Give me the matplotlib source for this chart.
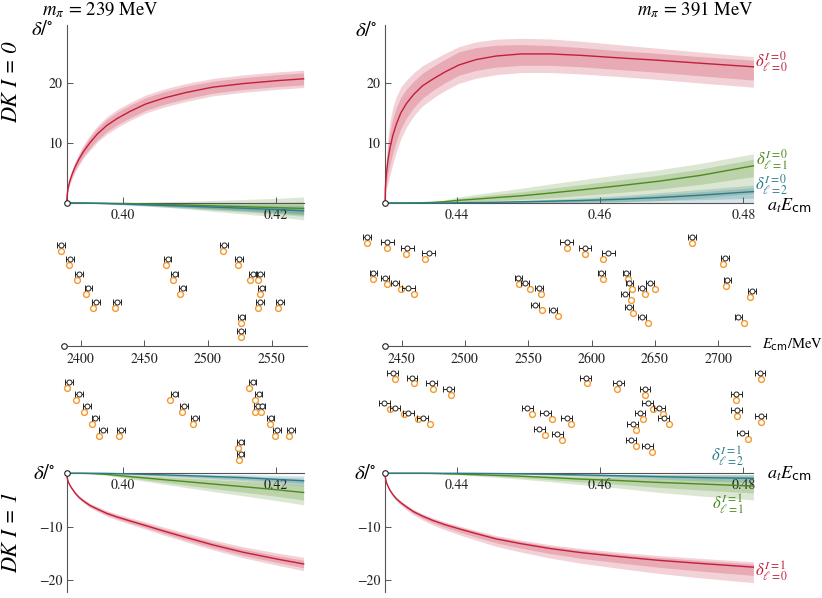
"""
DK-bar phase shifts and the finite-volume levels used to constrain them,
for m_pi = 239 MeV (left) and 391 MeV (right).  Values read off the figure.
"""
import matplotlib
matplotlib.use("Agg")
import matplotlib.pyplot as plt
import matplotlib.transforms as mtransforms
import numpy as np

plt.rcParams["mathtext.fontset"] = "custom"
plt.rcParams["mathtext.rm"] = "STIXGeneral"
plt.rcParams["mathtext.it"] = "STIXGeneral:italic"
plt.rcParams["mathtext.bf"] = "STIXGeneral:bold"
plt.rcParams["mathtext.sf"] = "DejaVu Sans"
plt.rcParams["mathtext.fallback"] = "stix"
plt.rcParams["font.family"] = "STIXGeneral"

W, H = 822, 598
RED = "#c41e3a"
GREEN = "#4b8b1e"
TEAL = "#2b7b8c"
ORANGE = "#f39a2d"
AXC = "#555555"
INK = "#222222"

# ===== phase shifts, m_pi = 239 MeV (a_t E_cm samples) =====
X239 = [0.39270, 0.39275, 0.39290, 0.39310, 0.39340, 0.39380, 0.39430, 0.39490, 0.39570, 0.39670,
        0.39790, 0.39930, 0.40100, 0.40300, 0.40540, 0.40820, 0.41170, 0.41570, 0.42020, 0.42360]
# I = 0
I0_239_S = [0, 1.3, 2.6, 3.65, 4.8, 6.05, 7.3, 8.6, 10.0, 11.5, 12.9, 14.1, 15.3, 16.5, 17.5, 18.4, 19.3, 19.9, 20.4, 20.7]
I0_239_S_IN = [0, 0.14, 0.28, 0.38, 0.5, 0.6, 0.7, 0.78, 0.88, 0.95, 1.02, 1.05, 1.05, 1.05, 1.05, 1.05, 1.0, 1.0, 1.0, 1.0]
I0_239_S_OUT = [0, 0.2, 0.4, 0.55, 0.7, 0.85, 1.0, 1.1, 1.25, 1.35, 1.45, 1.5, 1.5, 1.5, 1.5, 1.5, 1.45, 1.45, 1.45, 1.45]
I0_239_P = [0, 0, 0, 0, 0, 0, 0, 0, -0.01, -0.02, -0.04, -0.07, -0.1, -0.16, -0.23, -0.33, -0.47, -0.62, -0.78, -0.9]
I0_239_P_IN = [0, 0, 0, 0, 0, 0, 0, 0, 0.02, 0.03, 0.05, 0.08, 0.12, 0.18, 0.27, 0.37, 0.53, 0.7, 0.9, 1.1]
I0_239_P_OUT = [0, 0, 0, 0, 0, 0, 0, 0, 0.03, 0.05, 0.08, 0.13, 0.2, 0.3, 0.45, 0.62, 0.9, 1.2, 1.55, 1.9]
I0_239_D = [0, 0, 0, 0, 0, 0, 0, -0.01, -0.03, -0.06, -0.1, -0.15, -0.22, -0.3, -0.4, -0.52, -0.68, -0.87, -1.1, -1.3]
I0_239_D_IN = [0, 0, 0, 0, 0, 0, 0, 0.01, 0.02, 0.03, 0.04, 0.06, 0.09, 0.12, 0.16, 0.2, 0.26, 0.33, 0.42, 0.5]
I0_239_D_OUT = [0, 0, 0, 0, 0, 0, 0, 0.01, 0.03, 0.05, 0.08, 0.11, 0.16, 0.22, 0.29, 0.37, 0.48, 0.6, 0.76, 0.9]
# I = 1
I1_239_S = [0, -0.78, -1.56, -2.2, -2.9, -3.7, -4.5, -5.2, -6.0, -6.7, -7.5, -8.2, -8.95, -9.8, -10.85, -12.0, -13.4, -14.8, -16.1, -17.0]
I1_239_S_IN = [0, 0.03, 0.07, 0.1, 0.12, 0.15, 0.18, 0.21, 0.24, 0.26, 0.29, 0.32, 0.35, 0.38, 0.42, 0.46, 0.52, 0.58, 0.64, 0.7]
I1_239_S_OUT = [0, 0.05, 0.12, 0.17, 0.22, 0.27, 0.32, 0.37, 0.42, 0.47, 0.52, 0.57, 0.62, 0.68, 0.75, 0.83, 0.93, 1.03, 1.15, 1.25]
I1_239_P = [0, 0, 0, 0, 0, 0, 0, -0.01, -0.04, -0.1, -0.2, -0.38, -0.62, -0.88, -1.2, -1.55, -2.0, -2.5, -3.1, -3.6]
I1_239_P_IN = [0, 0, 0, 0, 0, 0, 0, 0, 0.03, 0.06, 0.11, 0.18, 0.27, 0.38, 0.51, 0.66, 0.84, 1.02, 1.23, 1.4]
I1_239_P_OUT = [0, 0, 0, 0, 0, 0, 0, 0, 0.05, 0.1, 0.18, 0.3, 0.45, 0.63, 0.85, 1.1, 1.4, 1.7, 2.05, 2.3]
I1_239_D = [0, 0, 0, 0, 0, 0, 0, 0, 0, 0, -0.02, -0.06, -0.12, -0.2, -0.3, -0.42, -0.6, -0.8, -1.15, -1.4]
I1_239_D_IN = [0, 0, 0, 0, 0, 0, 0, 0, 0, 0, 0.01, 0.03, 0.05, 0.07, 0.11, 0.16, 0.22, 0.3, 0.41, 0.5]
I1_239_D_OUT = [0, 0, 0, 0, 0, 0, 0, 0, 0, 0, 0.02, 0.05, 0.09, 0.14, 0.21, 0.3, 0.42, 0.56, 0.78, 0.95]

# ===== phase shifts, m_pi = 391 MeV =====
X391 = [0.43000, 0.43005, 0.43020, 0.43040, 0.43070, 0.43110, 0.43160, 0.43220, 0.43300, 0.43400, 0.43520, 0.43660,
        0.43830, 0.44030, 0.44270, 0.44550, 0.44900, 0.45300, 0.45750, 0.46250, 0.46800, 0.47400, 0.48140]
# I = 0
I0_391_S = [0, 2.5, 5.0, 7.1, 9.2, 11.3, 13.2, 15.0, 16.6, 18.1, 19.5, 20.6,
            21.8, 23.0, 23.9, 24.5, 24.85, 24.85, 24.6, 24.2, 23.8, 23.3, 22.7]
I0_391_S_OUT_UP = [0, 1.5, 2.8, 3.8, 4.5, 4.7, 4.6, 4.3, 3.9, 3.6, 3.35, 3.2,
                   3.1, 3.05, 2.95, 2.8, 2.6, 2.5, 2.35, 2.2, 2.0, 1.85, 1.7]
I0_391_S_OUT_DN = [0, 1.5, 2.8, 3.8, 4.5, 4.7, 4.6, 4.3, 3.9, 3.6, 3.35, 3.2,
                   3.1, 3.05, 3.1, 3.1, 3.1, 3.1, 3.1, 3.1, 3.2, 3.3, 3.4]
I0_391_S_IN_UP = [0, 0.9, 1.7, 2.3, 2.7, 2.9, 2.8, 2.6, 2.4, 2.2, 2.1, 2.1,
                  2.1, 2.2, 2.0, 1.8, 1.55, 1.4, 1.3, 1.2, 1.15, 1.1, 1.1]
I0_391_S_IN_DN = [0, 0.9, 1.7, 2.3, 2.7, 2.9, 2.8, 2.6, 2.4, 2.2, 2.05, 1.9,
                  1.8, 1.7, 1.8, 1.85, 1.9, 1.9, 1.9, 1.95, 2.0, 2.1, 2.2]
I0_391_P = [0, 0, 0, 0, 0, 0, 0, 0, 0, 0.02, 0.05, 0.1,
            0.22, 0.45, 0.65, 0.9, 1.2, 1.65, 2.2, 2.85, 3.6, 4.6, 6.2]
I0_391_P_OUT_UP = [0, 0, 0, 0, 0, 0, 0, 0, 0.01, 0.03, 0.06, 0.15,
                   0.3, 0.55, 0.8, 1.0, 1.25, 1.5, 1.7, 1.85, 1.9, 2.0, 2.0]
I0_391_P_OUT_DN = [0, 0, 0, 0, 0, 0, 0, 0, 0, 0.02, 0.05, 0.1,
                   0.22, 0.45, 0.65, 0.9, 1.2, 1.6, 2.15, 2.7, 3.2, 3.8, 4.6]
I0_391_P_IN_UP = [0, 0, 0, 0, 0, 0, 0, 0, 0, 0.01, 0.03, 0.07,
                  0.15, 0.3, 0.42, 0.55, 0.65, 0.78, 0.88, 0.95, 1.0, 1.05, 1.1]
I0_391_P_IN_DN = [0, 0, 0, 0, 0, 0, 0, 0, 0, 0.01, 0.03, 0.06,
                  0.12, 0.25, 0.38, 0.5, 0.62, 0.78, 0.95, 1.1, 1.3, 1.5, 1.8]
I0_391_D = [0, 0, 0, 0, 0, 0, 0, 0, 0, 0, 0, 0,
            0.005, 0.05, 0.08, 0.12, 0.2, 0.3, 0.42, 0.6, 0.9, 1.3, 1.9]
I0_391_D_OUT_UP = [0, 0, 0, 0, 0, 0, 0, 0, 0, 0, 0, 0,
                   0.01, 0.05, 0.08, 0.12, 0.2, 0.3, 0.45, 0.6, 0.8, 0.95, 1.1]
I0_391_D_OUT_DN = [0, 0, 0, 0, 0, 0, 0, 0, 0, 0, 0, 0,
                   0.005, 0.05, 0.08, 0.12, 0.2, 0.3, 0.42, 0.58, 0.85, 1.25, 1.85]
I0_391_D_IN_UP = [0, 0, 0, 0, 0, 0, 0, 0, 0, 0, 0, 0,
                  0.005, 0.03, 0.05, 0.07, 0.12, 0.18, 0.27, 0.36, 0.48, 0.57, 0.65]
I0_391_D_IN_DN = [0, 0, 0, 0, 0, 0, 0, 0, 0, 0, 0, 0,
                  0.003, 0.03, 0.05, 0.07, 0.12, 0.18, 0.25, 0.35, 0.5, 0.75, 1.1]
# I = 1
I1_391_S = [0, -0.85, -1.7, -2.4, -3.2, -4.0, -4.8, -5.5, -6.3, -7.2, -8.0, -8.8,
            -9.6, -10.4, -11.3, -12.3, -13.2, -14.1, -14.9, -15.6, -16.3, -16.9, -17.6]
I1_391_S_OUT_UP = [0, 0.08, 0.12, 0.16, 0.2, 0.24, 0.28, 0.32, 0.36, 0.4, 0.44, 0.48,
                   0.52, 0.56, 0.6, 0.64, 0.68, 0.72, 0.78, 0.84, 0.9, 0.95, 1.0]
I1_391_S_OUT_DN = [0, 0.1, 0.16, 0.22, 0.28, 0.34, 0.4, 0.47, 0.55, 0.64, 0.74, 0.85,
                   0.97, 1.1, 1.24, 1.4, 1.58, 1.78, 2.0, 2.2, 2.45, 2.7, 2.9]
I1_391_S_IN_UP = [0, 0.05, 0.07, 0.1, 0.12, 0.14, 0.17, 0.19, 0.22, 0.24, 0.26, 0.29,
                  0.31, 0.34, 0.36, 0.38, 0.41, 0.43, 0.47, 0.5, 0.54, 0.57, 0.6]
I1_391_S_IN_DN = [0, 0.05, 0.08, 0.12, 0.15, 0.18, 0.21, 0.25, 0.29, 0.34, 0.39, 0.45,
                  0.51, 0.58, 0.66, 0.74, 0.84, 0.94, 1.06, 1.17, 1.3, 1.43, 1.55]
I1_391_P = [0, 0, 0, 0, 0, 0, 0, 0, 0, 0, 0, -0.02,
            -0.08, -0.15, -0.25, -0.38, -0.55, -0.8, -1.1, -1.35, -1.7, -2.0, -2.4]
I1_391_P_OUT_UP = [0, 0, 0, 0, 0, 0, 0, 0, 0, 0, 0, 0.02,
                   0.06, 0.12, 0.2, 0.3, 0.45, 0.6, 0.85, 1.1, 1.45, 1.8, 2.1]
I1_391_P_OUT_DN = [0, 0, 0, 0, 0, 0, 0, 0, 0, 0, 0, 0.02,
                   0.07, 0.15, 0.25, 0.37, 0.55, 0.75, 1.05, 1.4, 1.85, 2.25, 2.6]
I1_391_P_IN_UP = [0, 0, 0, 0, 0, 0, 0, 0, 0, 0, 0, 0.01,
                  0.03, 0.06, 0.1, 0.15, 0.22, 0.3, 0.43, 0.55, 0.72, 0.9, 1.05]
I1_391_P_IN_DN = [0, 0, 0, 0, 0, 0, 0, 0, 0, 0, 0, 0.01,
                  0.04, 0.08, 0.13, 0.19, 0.28, 0.38, 0.53, 0.7, 0.92, 1.12, 1.3]
I1_391_D = [0, 0, 0, 0, 0, 0, 0, 0, 0, 0, 0, 0,
            0, 0, -0.02, -0.05, -0.1, -0.18, -0.3, -0.45, -0.62, -0.8, -0.95]
I1_391_D_OUT = [0, 0, 0, 0, 0, 0, 0, 0, 0, 0, 0, 0,
                0, 0, 0.01, 0.03, 0.07, 0.12, 0.2, 0.3, 0.45, 0.6, 0.75]
I1_391_D_IN = [0, 0, 0, 0, 0, 0, 0, 0, 0, 0, 0, 0,
               0, 0, 0.005, 0.02, 0.04, 0.07, 0.11, 0.17, 0.25, 0.33, 0.42]

# ===== finite-volume energy levels (E_cm in MeV, row = vertical slot) =====
# black: lattice level with error, orange: level from the fitted amplitude
LT_E = [2384.3, 2391.6, 2398.9, 2406.0, 2411.8, 2428.7, 2468.3, 2473.8, 2480.0,
        2512.5, 2524.5, 2535.5, 2540.7, 2542.1, 2540.7, 2556.4, 2526.4, 2526.1]
LT_EO = [2384.3, 2391.1, 2397.3, 2404.2, 2409.9, 2426.9, 2467.0, 2472.7, 2477.9,
         2511.5, 2523.7, 2532.7, 2539.4, 2541.0, 2538.9, 2555.1, 2525.8, 2525.8]
LT_ROW = [7, 6, 5, 4, 3, 3, 6, 5, 4, 7, 6, 5, 5, 4, 3, 3, 2, 1]
LT_ERR = [3.0] * 18

LB_E = [2390.8, 2398.9, 2404.9, 2411.5, 2417.7, 2431.6, 2473.8, 2481.1, 2489.7,
        2525.6, 2525.6, 2535.0, 2539.7, 2539.2, 2542.1, 2549.1, 2554.3, 2565.3]
LB_EO = [2389.5, 2396.1, 2402.4, 2408.6, 2414.6, 2430.1, 2470.1, 2479.3, 2488.1,
         2523.5, 2524.3, 2532.3, 2536.8, 2536.8, 2541.5, 2548.6, 2552.7, 2563.7]
LB_ROW = [3, 4, 5, 6, 7, 7, 4, 5, 6, 8, 9, 3, 4, 5, 5, 6, 7, 7]
LB_ERR = [3.0] * 18

RT_E = [2422.8, 2438.6, 2454.4, 2471.3, 2427.6, 2436.6, 2444.7, 2455.2, 2542.1, 2547.4,
        2558.5, 2555.5, 2569.7, 2580.3, 2594.8, 2613.2, 2607.7, 2627.4, 2629.8, 2626.4,
        2629.3, 2639.8, 2646.1, 2640.0, 2679.5, 2705.4, 2707.2, 2726.5, 2715.9]
RT_EO = [2422.4, 2438.2, 2453.4, 2468.2, 2427.6, 2438.6, 2449.4, 2459.7, 2542.7, 2551.3,
         2560.3, 2560.8, 2573.5, 2580.6, 2595.0, 2609.2, 2609.2, 2629.0, 2631.9, 2630.9,
         2632.5, 2642.2, 2650.1, 2644.8, 2679.1, 2704.0, 2706.2, 2725.1, 2720.6]
RT_ROW = [20.4, 19.3, 18.3, 17.3, 13.6, 12.7, 11.7, 10.7, 12.7, 11.7,
          10.7, 7.7, 6.7, 19.3, 18.3, 17.3, 13.6, 13.6, 11.7, 9.7,
          7.3, 10.7, 11.7, 5.3, 20.4, 16.3, 12.3, 10.2, 5.3]
RT_ERR = [3, 5, 5, 5, 3, 3, 3, 5, 3, 3, 3, 3, 3, 5, 5, 5, 3, 3, 3, 3,
          3, 3, 3, 3, 3, 3, 3, 3, 3]

RB_E = [2442.9, 2458.1, 2473.7, 2487.1, 2436.3, 2444.7, 2455.2, 2466.6, 2549.2, 2563.7,
        2580.3, 2558.7, 2572.9, 2595.3, 2621.4, 2642.2, 2644.3, 2653.5, 2638.2, 2657.0,
        2632.5, 2631.1, 2643.8, 2733.0, 2714.1, 2714.6, 2733.6, 2719.0]
RB_EO = [2444.7, 2460.0, 2474.5, 2488.7, 2441.0, 2452.1, 2462.6, 2472.6, 2552.7, 2568.5,
         2583.7, 2563.4, 2576.4, 2596.1, 2619.8, 2642.4, 2648.7, 2656.2, 2640.8, 2661.1,
         2635.1, 2634.8, 2647.7, 2733.6, 2714.1, 2714.6, 2733.6, 2723.3]
RB_ROW = [5.1, 6.0, 7.1, 8.1, 10.75, 11.7, 12.75, 13.7, 11.7, 12.75,
          13.7, 15.8, 16.7, 6.0, 7.1, 8.1, 10.75, 11.7, 12.75, 13.7,
          14.8, 17.8, 18.9, 5.1, 9.2, 12.1, 13.2, 16.4]
RB_ERR = [4.3] * 28


def px_axes(fig, x0, x1, y0, y1):
    """axes from pixel box (y measured down from the top)"""
    return fig.add_axes([x0 / W, 1 - y1 / H, (x1 - x0) / W, (y1 - y0) / H])


def fig_text(fig, x, y, s, **kw):
    kw.setdefault("ha", "center")
    kw.setdefault("va", "center")
    fig.text(x / W, 1 - y / H, s, **kw)


def threshold_dot(ax, x):
    ax.plot([x], [0], "o", ms=4, mfc="white", mec=INK, mew=0.8,
            clip_on=False, zorder=10)


def style_phase(ax, xlim, ylim, xticks, yticks, spine_lo, spine_hi):
    ax.set_xlim(xlim)
    ax.set_ylim(ylim)
    ax.patch.set_alpha(0)
    for s in ("top", "right"):
        ax.spines[s].set_visible(False)
    ax.spines["bottom"].set_position(("data", 0))
    ax.spines["left"].set_bounds(spine_lo, spine_hi)
    for s in ("bottom", "left"):
        ax.spines[s].set_color(AXC)
        ax.spines[s].set_linewidth(0.8)
    ax.set_xticks(xticks)
    ax.set_xticklabels([f"{t:.2f}" for t in xticks])
    ax.set_yticks(yticks)
    ax.set_yticklabels([str(t).replace("-", "\u2212") for t in yticks])
    ax.tick_params(direction="in", length=4, width=0.7, color=AXC,
                   labelcolor=INK, labelsize=10, pad=3)
    ax.tick_params(axis="x", pad=4)
    threshold_dot(ax, xlim[0])


def draw_curve(ax, x, c, in_dn, in_up, out_dn, out_up, color):
    x = np.asarray(x)
    c = np.asarray(c)
    ax.fill_between(x, c - np.asarray(out_dn), c + np.asarray(out_up),
                    color=color, alpha=0.2, lw=0, clip_on=False)
    ax.fill_between(x, c - np.asarray(in_dn), c + np.asarray(in_up),
                    color=color, alpha=0.22, lw=0, clip_on=False)
    ax.plot(x, c, color=color, lw=1.0, clip_on=False, zorder=5)


def draw_levels(ax, e_black, e_orange, rows, err, sign):
    y = sign * np.asarray(rows, float)
    shifted = mtransforms.offset_copy(ax.transData, fig=ax.figure, y=-4.3, units="points")
    ax.plot(e_orange, y, "o", ls="none", ms=4.2, mfc="white", mec=ORANGE, mew=1.0,
            transform=shifted, clip_on=False, zorder=3)
    cont = ax.errorbar(e_black, y, xerr=err, fmt="o", ms=3.6, mfc="white", mec=INK,
                       mew=0.7, ecolor=INK, elinewidth=0.7, capsize=2.4, capthick=0.7,
                       zorder=4)
    for art in [cont[0], *cont[1], *cont[2]]:
        art.set_clip_on(False)


def style_levels(ax, xlim, ylim, xticks):
    ax.set_xlim(xlim)
    ax.set_ylim(ylim)
    ax.patch.set_alpha(0)
    for s in ("top", "right", "left"):
        ax.spines[s].set_visible(False)
    ax.spines["bottom"].set_color(AXC)
    ax.spines["bottom"].set_linewidth(0.8)
    ax.set_yticks([])
    ax.set_xticks(xticks)
    ax.tick_params(axis="x", direction="in", length=4, width=0.7, color=AXC,
                   labelcolor=INK, labelsize=10, pad=5)
    threshold_dot(ax, xlim[0])


fig = plt.figure(figsize=(W / 100, H / 100), dpi=100)

# ---- phase-shift panels ----
ax_tl = px_axes(fig, 66.7, 303.6, 25, 221)
ax_tr = px_axes(fig, 385, 753.4, 25, 221)
ax_bl = px_axes(fig, 66.7, 303.6, 470, 591.7)
ax_br = px_axes(fig, 385, 753.4, 470, 591.7)

draw_curve(ax_tl, X239, I0_239_P, I0_239_P_IN, I0_239_P_IN, I0_239_P_OUT, I0_239_P_OUT, GREEN)
draw_curve(ax_tl, X239, I0_239_D, I0_239_D_IN, I0_239_D_IN, I0_239_D_OUT, I0_239_D_OUT, TEAL)
draw_curve(ax_tl, X239, I0_239_S, I0_239_S_IN, I0_239_S_IN, I0_239_S_OUT, I0_239_S_OUT, RED)

draw_curve(ax_tr, X391, I0_391_P, I0_391_P_IN_DN, I0_391_P_IN_UP,
           I0_391_P_OUT_DN, I0_391_P_OUT_UP, GREEN)
draw_curve(ax_tr, X391, I0_391_D, I0_391_D_IN_DN, I0_391_D_IN_UP,
           I0_391_D_OUT_DN, I0_391_D_OUT_UP, TEAL)
draw_curve(ax_tr, X391, I0_391_S, I0_391_S_IN_DN, I0_391_S_IN_UP,
           I0_391_S_OUT_DN, I0_391_S_OUT_UP, RED)

draw_curve(ax_bl, X239, I1_239_P, I1_239_P_IN, I1_239_P_IN, I1_239_P_OUT, I1_239_P_OUT, GREEN)
draw_curve(ax_bl, X239, I1_239_D, I1_239_D_IN, I1_239_D_IN, I1_239_D_OUT, I1_239_D_OUT, TEAL)
draw_curve(ax_bl, X239, I1_239_S, I1_239_S_IN, I1_239_S_IN, I1_239_S_OUT, I1_239_S_OUT, RED)

draw_curve(ax_br, X391, I1_391_P, I1_391_P_IN_DN, I1_391_P_IN_UP,
           I1_391_P_OUT_DN, I1_391_P_OUT_UP, GREEN)
draw_curve(ax_br, X391, I1_391_D, I1_391_D_IN, I1_391_D_IN, I1_391_D_OUT, I1_391_D_OUT, TEAL)
draw_curve(ax_br, X391, I1_391_S, I1_391_S_IN_DN, I1_391_S_IN_UP,
           I1_391_S_OUT_DN, I1_391_S_OUT_UP, RED)

style_phase(ax_tl, (0.3927, 0.4236), (-3.0, 29.67), [0.40, 0.42], [10, 20], 0, 29.67)
style_phase(ax_tr, (0.4300, 0.4814), (-3.0, 29.67), [0.44, 0.46, 0.48], [10, 20], 0, 29.67)
style_phase(ax_bl, (0.3927, 0.4236), (-22.2, 0.62), [0.40, 0.42], [-20, -10], -22.2, 0)
style_phase(ax_br, (0.4300, 0.4814), (-22.2, 0.62), [0.44, 0.46, 0.48], [-20, -10], -22.2, 0)

# ---- energy-level panels ----
lv_tl = px_axes(fig, 64, 306.7, 228, 345.7)
lv_bl = px_axes(fig, 64, 306.7, 345.7, 470)
lv_tr = px_axes(fig, 385, 750, 228, 345.7)
lv_br = px_axes(fig, 385, 750, 345.7, 470)

style_levels(lv_tl, (2386.9, 2577.5), (0, 8.17), [2400, 2450, 2500, 2550])
style_levels(lv_tr, (2436.8, 2725.1), (0, 22.0), [2450, 2500, 2550, 2600, 2650, 2700])
for ax, xl, yl in ((lv_bl, (2386.9, 2577.5), (-10.36, 0)),
                   (lv_br, (2436.8, 2725.1), (-23.45, 0))):
    ax.set_xlim(xl)
    ax.set_ylim(yl)
    ax.axis("off")

draw_levels(lv_tl, LT_E, LT_EO, LT_ROW, LT_ERR, 1)
draw_levels(lv_bl, LB_E, LB_EO, LB_ROW, LB_ERR, -1)
draw_levels(lv_tr, RT_E, RT_EO, RT_ROW, RT_ERR, 1)
draw_levels(lv_br, RB_E, RB_EO, RB_ROW, RB_ERR, -1)

# ---- labels ----
fig_text(fig, 100, 10, r"$m_\pi\,=\,239\ \mathrm{MeV}$", fontsize=13.5)
fig_text(fig, 695, 10, r"$m_\pi\,=\,391\ \mathrm{MeV}$", fontsize=13.5)
for x, y in ((42, 30), (366, 31), (44, 474), (365, 474)):
    fig_text(fig, x, y, r"$\delta/^{\circ}$", fontsize=15)
# K with a combining macron (taken from DejaVu Serif) gives the bar over K
ISO_FAMILY = ["STIXGeneral", "DejaVu Serif"]
fig_text(fig, 12, 82, "DK\u0304 I = 0", fontsize=16, rotation=90, style="italic",
         family=ISO_FAMILY)
fig_text(fig, 12, 532, "DK\u0304 I = 1", fontsize=16, rotation=90, style="italic",
         family=ISO_FAMILY)

fig_text(fig, 767, 206, r"$a_t E_{\mathsf{cm}}$", fontsize=13, ha="left")
fig_text(fig, 767, 474, r"$a_t E_{\mathsf{cm}}$", fontsize=13, ha="left")
fig_text(fig, 762, 345, r"$E_{\mathsf{cm}}/\mathrm{MeV}$", fontsize=10.5, ha="left")

fig_text(fig, 772, 62, r"$\delta^{I=0}_{\ell=0}$", fontsize=12, color=RED)
fig_text(fig, 772, 160, r"$\delta^{I=0}_{\ell=1}$", fontsize=12, color=GREEN)
fig_text(fig, 772, 185, r"$\delta^{I=0}_{\ell=2}$", fontsize=12, color=TEAL)
fig_text(fig, 728, 456, r"$\delta^{I=1}_{\ell=2}$", fontsize=12, color=TEAL)
fig_text(fig, 728, 504, r"$\delta^{I=1}_{\ell=1}$", fontsize=12, color=GREEN)
fig_text(fig, 772, 571, r"$\delta^{I=1}_{\ell=0}$", fontsize=12, color=RED)

fig.savefig("out.png", dpi=100)
